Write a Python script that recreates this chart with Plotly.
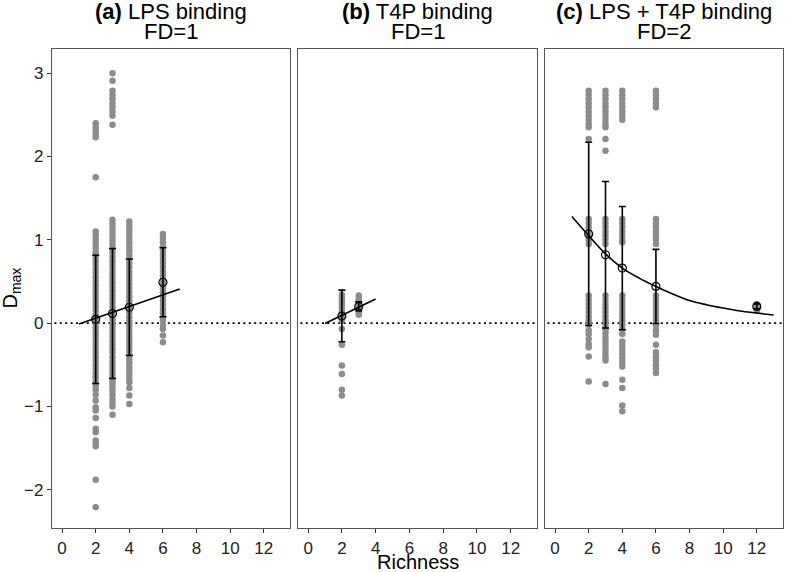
import plotly.graph_objects as go

# ---------------- data ----------------
# Panel (a) LPS binding, raw D_max values per richness level
a_x2 = [2.40, 2.35, 2.31, 2.27, 2.23, 1.75,
        1.10, 1.05, 1.00, 0.95, 0.90, 0.85, 0.80, 0.75, 0.70, 0.65, 0.60, 0.55, 0.50,
        0.45, 0.40, 0.35, 0.30, 0.25, 0.20, 0.15, 0.10, 0.05, 0.00, -0.05, -0.10,
        -0.15, -0.20, -0.25, -0.30, -0.35, -0.40, -0.45, -0.50, -0.55, -0.60, -0.65,
        -0.70, -0.75, -0.80, -0.86, -0.93, -1.01, -1.05, -1.14, -1.27, -1.31, -1.41,
        -1.45, -1.48, -1.88, -2.21]
a_x3 = [3.00, 2.91, 2.79, 2.74, 2.69, 2.64, 2.59, 2.54, 2.49, 2.38,
        1.24, 1.19, 1.14, 1.09, 1.04, 0.99, 0.94, 0.89, 0.84, 0.79, 0.74, 0.69, 0.64,
        0.59, 0.54, 0.49, 0.44, 0.39, 0.34, 0.29, 0.24, 0.19, 0.14, 0.09, 0.04, -0.01,
        -0.06, -0.11, -0.16, -0.21, -0.26, -0.31, -0.36, -0.41, -0.46, -0.51, -0.56,
        -0.61, -0.66, -0.71, -0.76, -0.81, -0.86, -0.91, -0.96, -1.00, -1.10]
a_x4 = [1.22, 1.17, 1.12, 1.07, 1.02, 0.97, 0.92, 0.87, 0.82, 0.77, 0.72, 0.67, 0.62,
        0.57, 0.52, 0.47, 0.42, 0.37, 0.32, 0.27, 0.22, 0.17, 0.12, 0.07, 0.02, -0.03,
        -0.08, -0.13, -0.18, -0.23, -0.28, -0.33, -0.38, -0.43, -0.48, -0.53, -0.58,
        -0.63, -0.68, -0.71, -0.78, -0.87, -0.97]
a_x6 = [1.07, 1.02, 0.97, 0.92, 0.87, 0.82, 0.77, 0.72, 0.67, 0.62, 0.57, 0.52, 0.47,
        0.42, 0.37, 0.32, 0.27, 0.22, 0.17, 0.12, 0.07, 0.03, -0.03, -0.07, -0.15, -0.23]

# Panel (b) T4P binding
b_x2 = [0.34, 0.30, 0.26, 0.22, 0.18, 0.14, 0.10, 0.06, 0.03, -0.07, -0.26, -0.51,
        -0.61, -0.80, -0.87]
b_x3 = [0.33, 0.29, 0.25, 0.21, 0.17, 0.13, 0.10]

# Panel (c) LPS + T4P binding
c_x2 = [2.79, 2.74, 2.69, 2.64, 2.59, 2.54, 2.49, 2.44, 2.39, 2.35, 2.21,
        1.25, 1.20, 1.15, 1.10, 1.05, 1.00, 0.95,
        0.33, 0.28, 0.23, 0.18, 0.13, 0.08, 0.03, -0.02,
        -0.09, -0.13, -0.19, -0.25, -0.29, -0.40, -0.70]
c_x3 = [2.79, 2.74, 2.69, 2.64, 2.59, 2.54, 2.49, 2.44, 2.39, 2.35, 2.21, 2.07,
        1.25, 1.20, 1.15, 1.10, 1.05, 1.00, 0.95,
        0.33, 0.28, 0.23, 0.18, 0.13, 0.08, 0.03, -0.02, -0.07, -0.12, -0.17, -0.22,
        -0.27, -0.32, -0.37, -0.42, -0.45, -0.73]
c_x4 = [2.79, 2.74, 2.69, 2.64, 2.59, 2.54, 2.49, 2.44,
        1.25, 1.20, 1.15, 1.10, 1.05, 1.00, 0.97,
        0.33, 0.28, 0.23, 0.18, 0.13, 0.08, 0.03, -0.02, -0.07, -0.13, -0.22, -0.27,
        -0.32, -0.37, -0.42, -0.47, -0.52, -0.68, -0.78, -0.99, -1.06]
c_x6 = [2.79, 2.74, 2.69, 2.64, 2.59,
        1.25, 1.20, 1.15, 1.10, 1.05, 1.00, 0.95,
        0.33, 0.28, 0.23, 0.18, 0.13, 0.08, 0.03, -0.03, -0.09, -0.14, -0.26,
        -0.35, -0.40, -0.45, -0.50, -0.55, -0.60]
c_x12 = [0.23, 0.19, 0.15]

# Means and error half-widths
a_rich = [2, 3, 4, 6]
a_mean = [0.045, 0.115, 0.19, 0.49]
a_err = [0.77, 0.78, 0.58, 0.415]
b_rich = [2, 3]
b_mean = [0.085, 0.20]
b_err = [0.31, 0.055]
c_rich = [2, 3, 4, 6, 12]
c_mean = [1.07, 0.82, 0.66, 0.44, 0.20]
c_err = [1.10, 0.88, 0.74, 0.445, 0.03]

# Fitted lines
a_fit_x = [1, 7]
a_fit_y = [-0.01, 0.41]
b_fit_x = [1, 4]
b_fit_y = [-0.005, 0.29]
c_fit_x = [1, 2, 3, 4, 5, 6, 7, 8, 9, 10, 11, 12, 13]
c_fit_y = [1.28, 1.05, 0.83, 0.66, 0.54, 0.44, 0.35, 0.27, 0.22, 0.18, 0.145, 0.12, 0.096]

titles = [("(a)", "LPS binding", "FD=1"),
          ("(b)", "T4P binding", "FD=1"),
          ("(c)", "LPS + T4P binding", "FD=2")]
x_ticks = [0, 2, 4, 6, 8, 10, 12]
y_ticks = [-2, -1, 0, 1, 2, 3]

# ---------------- figure ----------------
GREY = "#8c8c8c"
FONT = "Liberation Sans, Arial, sans-serif"
fig = go.Figure()

panels = [
    ({2: a_x2, 3: a_x3, 4: a_x4, 6: a_x6}, a_rich, a_mean, a_err, a_fit_x, a_fit_y, "linear"),
    ({2: b_x2, 3: b_x3}, b_rich, b_mean, b_err, b_fit_x, b_fit_y, "linear"),
    ({2: c_x2, 3: c_x3, 4: c_x4, 6: c_x6, 12: c_x12}, c_rich, c_mean, c_err, c_fit_x, c_fit_y, "spline"),
]

for i, (raw, rich, mean, err, fx, fy, shape) in enumerate(panels):
    xa = "x" if i == 0 else f"x{i+1}"
    ya = "y" if i == 0 else f"y{i+1}"
    px, py = [], []
    for r, vals in raw.items():
        px += [r] * len(vals)
        py += vals
    fig.add_trace(go.Scatter(x=px, y=py, mode="markers", xaxis=xa, yaxis=ya,
                             marker=dict(color=GREY, size=6.5, line=dict(width=0)),
                             showlegend=False, hoverinfo="skip"))
    fig.add_trace(go.Scatter(x=rich, y=mean, mode="markers", xaxis=xa, yaxis=ya,
                             marker=dict(symbol="circle-open", color="black", size=8,
                                         line=dict(width=1.2, color="black")),
                             error_y=dict(type="data", array=err, visible=True,
                                          color="black", thickness=1.6, width=3.5),
                             showlegend=False))
    fig.add_trace(go.Scatter(x=fx, y=fy, mode="lines", xaxis=xa, yaxis=ya,
                             line=dict(color="black", width=1.6, shape=shape, smoothing=1.0),
                             showlegend=False, hoverinfo="skip"))
    fig.add_shape(type="line", xref=f"{xa} domain", yref=ya, x0=0.01, x1=1, y0=0, y1=0,
                  line=dict(color="black", width=1.8, dash="2px,3.4px"), layer="below")

domains = [[0, 0.3256], [0.3365, 0.6635], [0.6744, 1.0]]
axis_common = dict(showline=True, mirror=True, linecolor="#555555", linewidth=1.2,
                   showgrid=False, zeroline=False, ticks="outside", ticklen=4,
                   tickcolor="#333333", tickwidth=1,
                   tickfont=dict(family=FONT, size=17, color="#222222"))
layout = dict(width=785, height=572, margin=dict(l=52, r=2, t=49, b=44, autoexpand=False),
              plot_bgcolor="white", paper_bgcolor="white", showlegend=False,
              font=dict(family=FONT, color="#111111"))
for i in range(3):
    sx = "" if i == 0 else str(i + 1)
    layout[f"xaxis{sx}"] = dict(axis_common, domain=domains[i], range=[-0.6, 13.56],
                                anchor=f"y{sx}", tickvals=x_ticks,
                                ticktext=[str(t) for t in x_ticks])
    ydict = dict(axis_common, range=[-2.46, 3.29], anchor=f"x{sx}", tickvals=y_ticks,
                 ticktext=["\u22122", "\u22121", "0", "1", "2", "3"])
    if i > 0:
        ydict.update(showticklabels=False, ticks="")
    layout[f"yaxis{sx}"] = ydict
fig.update_layout(**layout)

annotations = []
centers = [(d[0] + d[1]) / 2 for d in domains]
for c, (tag, name, fd) in zip(centers, titles):
    annotations.append(dict(text=f"<b>{tag}</b> {name}", x=c, y=1.0793, xref="paper", yref="paper",
                            xanchor="center", yanchor="middle", showarrow=False,
                            font=dict(family=FONT, size=22, color="black")))
    annotations.append(dict(text=fd, x=c, y=1.0355, xref="paper", yref="paper",
                            xanchor="center", yanchor="middle", showarrow=False,
                            font=dict(family=FONT, size=22, color="black")))
annotations.append(dict(text="Richness", x=0.5, y=-0.071, xref="paper", yref="paper",
                        xanchor="center", yanchor="middle", showarrow=False,
                        font=dict(family=FONT, size=20, color="black")))
annotations.append(dict(text="D<sub>max</sub>", x=-0.056, y=0.5, xref="paper", yref="paper",
                        xanchor="center", yanchor="middle", showarrow=False, textangle=-90,
                        font=dict(family=FONT, size=20, color="black")))
fig.update_layout(annotations=annotations)

# remove the browser's default 8px body margin so the figure sits at the window's corner
fig.write_html("out.html", config={"displayModeBar": False},
               post_script="document.body.style.margin='0px';document.body.style.overflow='hidden';")
